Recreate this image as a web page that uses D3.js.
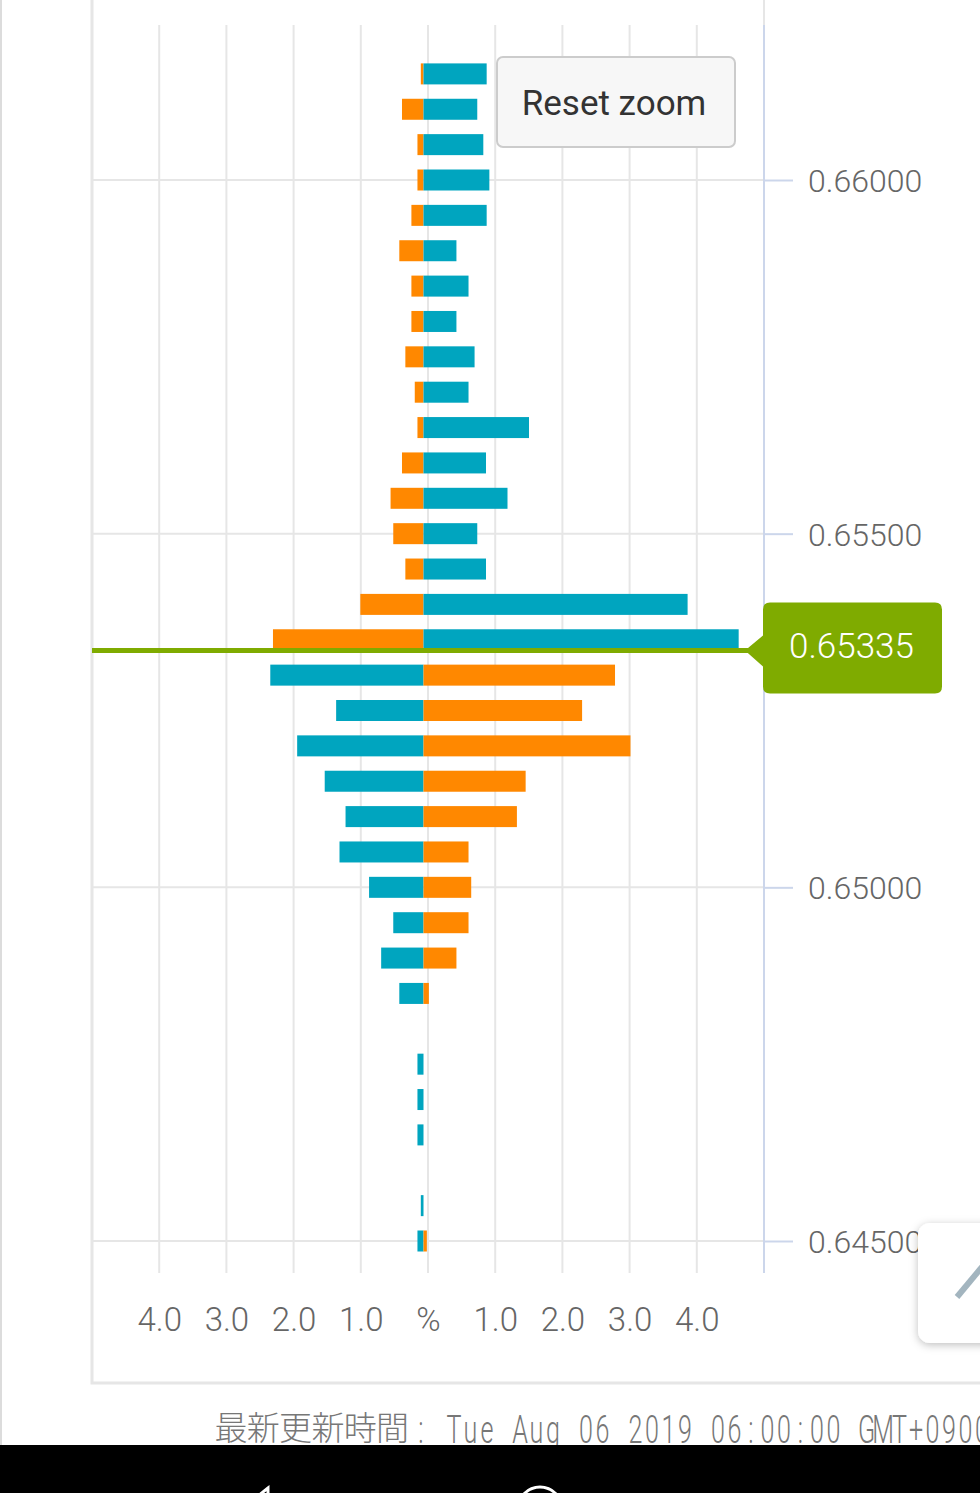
<!DOCTYPE html>
<html>
<head>
<meta charset="utf-8">
<script src="https://cdn.jsdelivr.net/npm/d3@7"></script>
<style>
  html, body { margin: 0; padding: 0; background: #fff; }
  svg { display: block; }
</style>
</head>
<body>
<div id="chart"></div>
<script>
//Data - price levels top to bottom, order share in % on each side
var priceLevels = [0.66150, 0.66100, 0.66050, 0.66000, 0.65950, 0.65900, 0.65850, 0.65800,
                   0.65750, 0.65700, 0.65650, 0.65600, 0.65550, 0.65500, 0.65450, 0.65400,
                   0.65350, 0.65300, 0.65250, 0.65200, 0.65150, 0.65100, 0.65050, 0.65000,
                   0.64950, 0.64900, 0.64850, 0.64800, 0.64750, 0.64700, 0.64650, 0.64600,
                   0.64550, 0.64500];
var buyOrders  = [0.04, 0.32, 0.09, 0.09, 0.18, 0.36, 0.18, 0.18,
                  0.27, 0.13, 0.09, 0.32, 0.49, 0.45, 0.27, 0.94,
                  2.24, 2.28, 1.30, 1.88, 1.47, 1.16, 1.25, 0.81,
                  0.45, 0.63, 0.36, 0.00, 0.09, 0.09, 0.09, 0.00,
                  0.04, 0.09];
var sellOrders = [0.94, 0.80, 0.89, 0.98, 0.94, 0.49, 0.67, 0.49,
                  0.76, 0.67, 1.57, 0.93, 1.25, 0.80, 0.93, 3.93,
                  4.69, 2.85, 2.36, 3.08, 1.52, 1.39, 0.67, 0.71,
                  0.67, 0.49, 0.08, 0.00, 0.00, 0.00, 0.00, 0.00,
                  0.00, 0.05];
var currentPrice = 0.65335;
var priceTicks = [0.645, 0.650, 0.655, 0.660];
var pctTicks = [-4, -3, -2, -1, 0, 1, 2, 3, 4];
var pctTickLabels = ["4.0", "3.0", "2.0", "1.0", "%", "1.0", "2.0", "3.0", "4.0"];
var footerLabel = "最新更新時間";
var footerTime = ": Tue Aug 06 2019 06:00:00 GMT+0900";
var resetLabel = "Reset zoom";

//Layout
var W = 980, H = 1493;
var plot = {left: 92, right: 764, top: 25, bottom: 1273};
var barH = 21;
var cell = 16.5;     //monospaced cell width of the narrow footer font
var squeeze = 0.66;  //horizontal squeeze for that narrow font

//Colours
var teal = "#00a5bf", orange = "#ff8800", green = "#7fab00",
    grid = "#e6e6e6", axisBlue = "#ccd6eb";

//Fonts
var sans = "Roboto, 'Noto Sans', sans-serif";

//Scales
var xScale = d3.scaleLinear().domain([-5, 5]).range([plot.left, plot.right]);
//the bars sit a few px left of the grid centre in the original
var barScale = d3.scaleLinear().domain([-5, 5]).range([plot.left - 4.5, plot.right - 4.5]);
var yScale = d3.scaleLinear().domain([0.645, 0.660]).range([1241, 180]);

//char centres of a string on a monospaced grid, in squeezed coordinates
function monoX(str, firstCentre) {
  return str.split("").map(function(c, k) {
    return ((firstCentre + k * cell) / squeeze).toFixed(2);
  }).join(" ");
}

var svg = d3.select("#chart").append("svg")
  .attr("width", W).attr("height", H);

var defs = svg.append("defs");
defs.append("filter").attr("id", "shadow")
  .attr("x", "-30%").attr("y", "-30%").attr("width", "160%").attr("height", "160%")
  .append("feDropShadow")
    .attr("dx", 0).attr("dy", 2).attr("stdDeviation", 4)
    .attr("flood-color", "#000").attr("flood-opacity", 0.25);

//page edge + container border
svg.append("line").attr("x1", 1).attr("x2", 1).attr("y1", 0).attr("y2", 1445)
  .attr("stroke", "#dcdcdc").attr("stroke-width", 2);
svg.append("path")
  .attr("d", "M" + plot.left + ",0V1383H" + W)
  .attr("fill", "none").attr("stroke", "#e6e6e6").attr("stroke-width", 3);
svg.append("line").attr("x1", plot.right).attr("x2", plot.right).attr("y1", 0).attr("y2", plot.top)
  .attr("stroke", grid).attr("stroke-width", 2);

//Vertical gridlines
svg.append("g").selectAll("line")
  .data(pctTicks)
  .enter().append("line")
    .attr("x1", function(d) { return xScale(d); })
    .attr("x2", function(d) { return xScale(d); })
    .attr("y1", plot.top).attr("y2", plot.bottom)
    .attr("stroke", grid).attr("stroke-width", 2);

//Horizontal gridlines
svg.append("g").selectAll("line")
  .data(priceTicks)
  .enter().append("line")
    .attr("x1", plot.left).attr("x2", plot.right)
    .attr("y1", function(d) { return yScale(d); })
    .attr("y2", function(d) { return yScale(d); })
    .attr("stroke", grid).attr("stroke-width", 2);

//Right price axis
var yAxis = d3.axisRight(yScale)
  .tickValues(priceTicks)
  .tickSize(29)
  .tickPadding(15)
  .tickFormat(d3.format(".5f"));

var yAxisG = svg.append("g")
  .attr("transform", "translate(" + plot.right + ",0)")
  .call(yAxis);
yAxisG.select(".domain").remove();
yAxisG.selectAll(".tick line").attr("stroke", axisBlue).attr("stroke-width", 2);
yAxisG.selectAll(".tick text")
  .attr("fill", "#666")
  .attr("dy", "0.36em")
  .style("font-family", sans)
  .style("font-weight", 300)
  .style("font-size", "32px");
svg.append("line").attr("x1", plot.right).attr("x2", plot.right)
  .attr("y1", plot.top).attr("y2", plot.bottom)
  .attr("stroke", axisBlue).attr("stroke-width", 2);

//Bars
var rows = priceLevels.map(function(p, i) {
  return {price: p, buy: buyOrders[i], sell: sellOrders[i]};
});
var barG = svg.append("g");

barG.selectAll("rect.buy")
  .data(rows.filter(function(d) { return d.buy > 0; }))
  .enter().append("rect")
    .attr("class", "buy")
    .attr("x", function(d) { return barScale(-d.buy); })
    .attr("y", function(d) { return yScale(d.price) - barH / 2; })
    .attr("width", function(d) { return barScale(0) - barScale(-d.buy); })
    .attr("height", barH)
    .attr("fill", function(d) { return d.price > currentPrice ? orange : teal; });

barG.selectAll("rect.sell")
  .data(rows.filter(function(d) { return d.sell > 0; }))
  .enter().append("rect")
    .attr("class", "sell")
    .attr("x", barScale(0))
    .attr("y", function(d) { return yScale(d.price) - barH / 2; })
    .attr("width", function(d) { return barScale(d.sell) - barScale(0); })
    .attr("height", barH)
    .attr("fill", function(d) { return d.price > currentPrice ? teal : orange; });

//Current price line + callout
var cy = yScale(currentPrice);
svg.append("line")
  .attr("x1", plot.left).attr("x2", 752)
  .attr("y1", cy).attr("y2", cy)
  .attr("stroke", green).attr("stroke-width", 5);

var bx0 = 763, bx1 = 942, by0 = cy - 48, by1 = cy + 43, r = 7;
svg.append("path")
  .attr("d", "M" + (bx0 + r) + "," + by0 +
             "H" + (bx1 - r) + "Q" + bx1 + "," + by0 + " " + bx1 + "," + (by0 + r) +
             "V" + (by1 - r) + "Q" + bx1 + "," + by1 + " " + (bx1 - r) + "," + by1 +
             "H" + (bx0 + r) + "Q" + bx0 + "," + by1 + " " + bx0 + "," + (by1 - r) +
             "V" + (cy + 16) + "L" + 745 + "," + cy + "L" + bx0 + "," + (cy - 15) +
             "V" + (by0 + r) + "Q" + bx0 + "," + by0 + " " + (bx0 + r) + "," + by0 + "Z")
  .attr("fill", green);
svg.append("text")
  .attr("x", (bx0 + bx1) / 2 - 1).attr("y", cy + 8)
  .attr("text-anchor", "middle")
  .attr("fill", "#fff")
  .style("font-family", sans)
  .style("font-weight", 300)
  .style("font-size", "35px")
  .text(d3.format(".5f")(currentPrice));

//Bottom percentage axis
var xAxis = d3.axisBottom(xScale)
  .tickValues(pctTicks)
  .tickSize(0)
  .tickFormat(function(d, i) { return pctTickLabels[i]; });

var xAxisG = svg.append("g")
  .attr("transform", "translate(0," + plot.bottom + ")")
  .call(xAxis);
xAxisG.select(".domain").remove();
xAxisG.selectAll(".tick text")
  .attr("y", 58).attr("dy", 0)
  .attr("fill", "#666")
  .style("font-family", sans)
  .style("font-weight", 300)
  .style("font-size", "33px");

//Reset zoom button
var btn = svg.append("g").attr("transform", "translate(497,57)");
btn.append("rect")
  .attr("width", 238).attr("height", 90).attr("rx", 6)
  .attr("fill", "#f7f7f7").attr("stroke", "#cccccc").attr("stroke-width", 2);
btn.append("text")
  .attr("x", 117).attr("y", 58)
  .attr("text-anchor", "middle")
  .attr("fill", "#333")
  .style("font-family", sans)
  .style("font-size", "35px")
  .text(resetLabel);

//Floating edit button (bottom right)
svg.append("rect")
  .attr("x", 918).attr("y", 1223).attr("width", 90).attr("height", 120).attr("rx", 12)
  .attr("fill", "#fff").attr("filter", "url(#shadow)");
svg.append("line")
  .attr("x1", 957).attr("y1", 1297).attr("x2", 982).attr("y2", 1267)
  .attr("stroke", "#a3b5bf").attr("stroke-width", 6);

//Footer update time (cut by the nav bar, as in the original)
svg.append("text")
  .attr("y", 1440)
  .attr("x", footerLabel.split("").map(function(c, k) { return 231 + k * 32.3; }).join(" "))
  .attr("text-anchor", "middle")
  .attr("fill", "#777")
  .style("font-family", "'Noto Sans CJK JP', 'Noto Sans CJK SC', sans-serif")
  .style("font-weight", 300)
  .style("font-size", "33px")
  .text(footerLabel);
svg.append("text")
  .attr("y", 1443)
  .attr("transform", "scale(" + squeeze + ",1)")
  .attr("x", monoX(footerTime, 421))
  .attr("text-anchor", "middle")
  .attr("fill", "#777")
  .style("font-family", sans)
  .style("font-weight", 300)
  .style("font-size", "38px")
  .text(footerTime);

//Phone nav bar
svg.append("rect").attr("x", 0).attr("y", 1445).attr("width", W).attr("height", H - 1445)
  .attr("fill", "#000");
svg.append("path")
  .attr("d", "M268,1488L238,1512L268,1536Z")
  .attr("fill", "none").attr("stroke", "#fff").attr("stroke-width", 3);
svg.append("circle").attr("cx", 540).attr("cy", 1509).attr("r", 22)
  .attr("fill", "none").attr("stroke", "#fff").attr("stroke-width", 3);
</script>
</body>
</html>
